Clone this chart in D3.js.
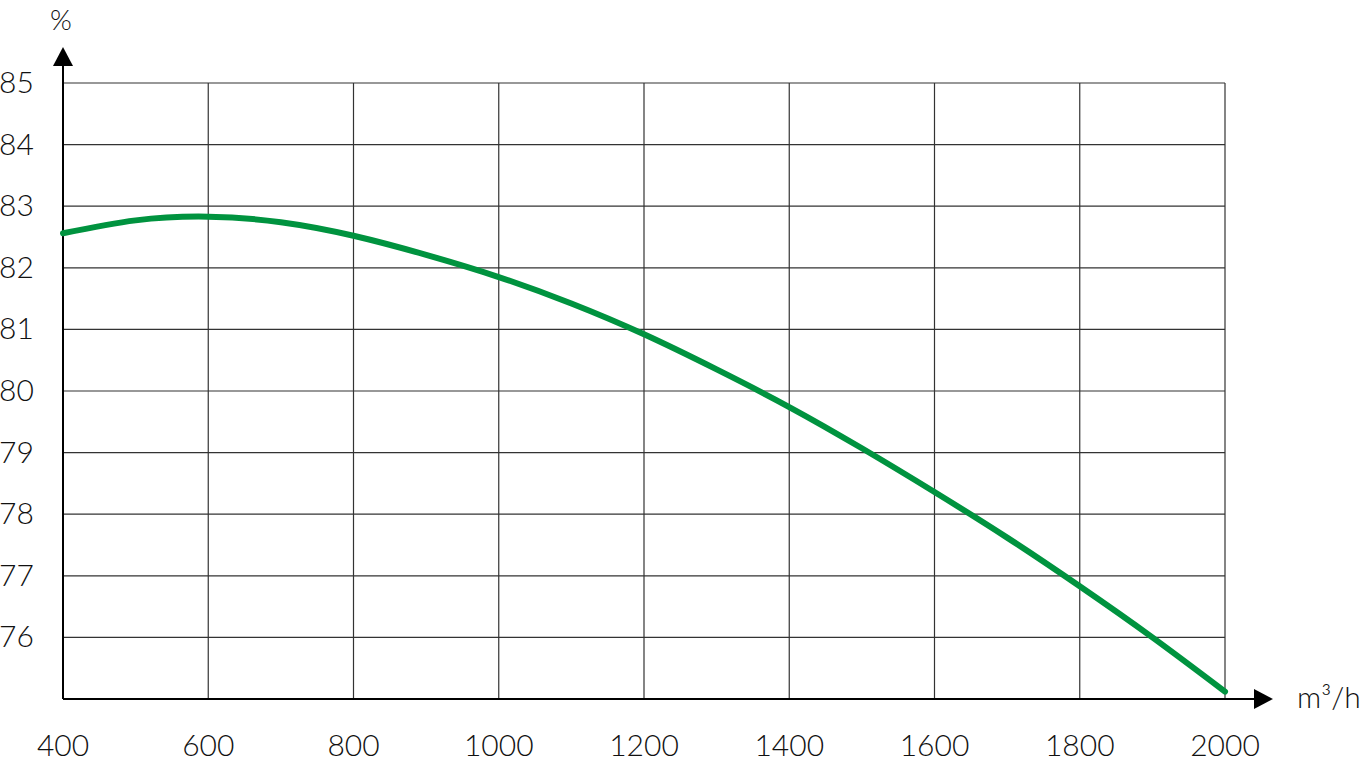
<!DOCTYPE html>
<html><head><meta charset="utf-8">
<script src="https://cdn.jsdelivr.net/npm/d3@7"></script>
<style>
body{margin:0;background:#fff;}
text{font-family:Lato,"DejaVu Sans",sans-serif;font-weight:300;fill:#111;}
</style></head><body>
<svg id="c" width="1369" height="763"></svg>
<script>
const xTicks = [400,600,800,1000,1200,1400,1600,1800,2000];
const yTicks = [76,77,78,79,80,81,82,83,84,85];
const flowValues = [400,500,600,700,800,900,1000,1100,1200,1300,1400,1500,1600,1700,1800,1900,2000];
const efficiency = [82.56,82.77,82.83,82.74,82.52,82.21,81.85,81.42,80.92,80.35,79.74,79.07,78.36,77.62,76.83,76.0,75.12];
const xLabel = "m³/h";
const yLabel = "%";

const svg = d3.select("#c");
const x = d3.scaleLinear().domain([400,2000]).range([63,1225]);
const y = d3.scaleLinear().domain([75,85]).range([699,83]);

// grid
svg.append("g").selectAll("line").data(yTicks).join("line")
  .attr("x1",x(400)).attr("x2",x(2000)).attr("y1",d=>y(d)).attr("y2",d=>y(d))
  .attr("stroke","#333").attr("stroke-width",1.2);
svg.append("g").selectAll("line").data(xTicks.slice(1)).join("line")
  .attr("x1",d=>x(d)).attr("x2",d=>x(d)).attr("y1",y(75)).attr("y2",y(85))
  .attr("stroke","#333").attr("stroke-width",1.2);

// axes
svg.append("line").attr("x1",x(400)).attr("x2",1258).attr("y1",y(75)).attr("y2",y(75)).attr("stroke","#000").attr("stroke-width",2);
svg.append("line").attr("x1",x(400)).attr("x2",x(400)).attr("y1",y(75)).attr("y2",62).attr("stroke","#000").attr("stroke-width",2);
svg.append("path").attr("d",`M${x(400)-10},66 L${x(400)},47 L${x(400)+10},66 Z`).attr("fill","#000");
svg.append("path").attr("d",`M1254,${y(75)-10} L1273,${y(75)} L1254,${y(75)+10} Z`).attr("fill","#000");

// labels
svg.append("g").selectAll("text").data(yTicks).join("text")
  .attr("x",-1).attr("y",d=>y(d)).attr("dy","0.33em").attr("font-size",30).text(d=>d);
svg.append("g").selectAll("text").data(xTicks).join("text")
  .attr("x",d=>x(d)).attr("y",745).attr("dy","0.35em").attr("text-anchor","middle").attr("font-size",30).text(d=>d);
svg.append("text").attr("x",x(400)-2).attr("y",30).attr("text-anchor","middle").attr("font-size",28).text(yLabel);
svg.append("text").attr("x",1297).attr("y",697).attr("dy","0.35em").attr("font-size",30).text(xLabel);

// curve
const line = d3.line().x((d,i)=>x(flowValues[i])).y(d=>y(d)).curve(d3.curveNatural);
svg.append("path").datum(efficiency).attr("d",line).attr("fill","none")
  .attr("stroke","#00933f").attr("stroke-width",6).attr("stroke-linecap","round");
</script></body></html>
